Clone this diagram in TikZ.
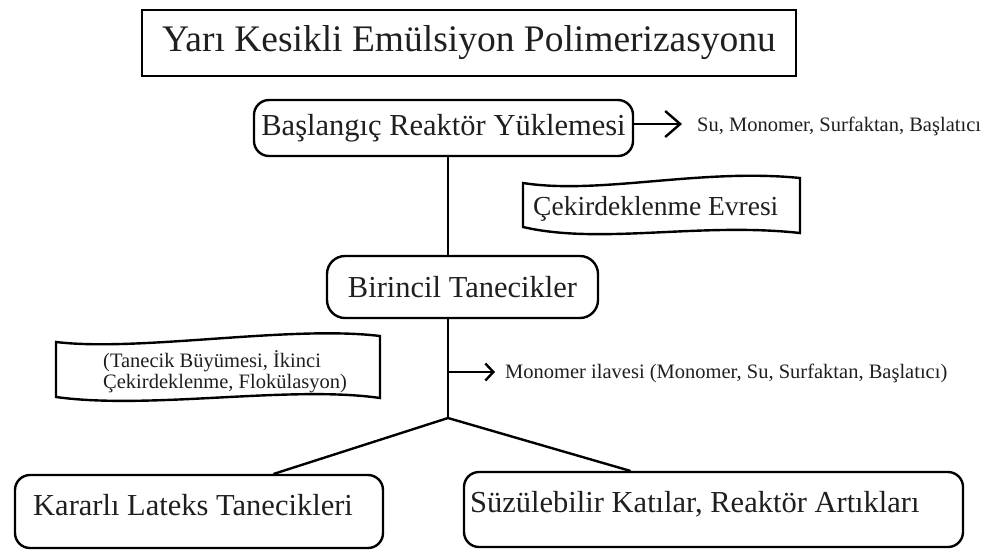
\documentclass[tikz,border=0pt]{standalone}
\usepackage{fontspec}
\setmainfont{Liberation Serif}
\usetikzlibrary{arrows.meta}
\tikzset{
  rbox/.style={draw=black, line width=2.4pt, rounded corners=15pt, inner sep=0pt},
  tbox/.style={draw=black, line width=2.4pt, inner sep=0pt},
  conn/.style={draw=black, line width=2.4pt},
  txt/.style={inner sep=0pt, text=black!88},
  bigtxt/.style={txt, font=\fontsize{30.5}{34}\selectfont},
  midtxt/.style={txt, font=\fontsize{27.5}{32}\selectfont},
  smalltxt/.style={txt, font=\fontsize{20.5}{24}\selectfont},
  bigarr/.style={conn, -{Straight Barb[length=15pt,width=26pt,line width=2.4pt]}},
  smallarr/.style={conn, -{Straight Barb[length=8pt,width=17pt,line width=2.4pt]}}
}
\begin{document}
\begin{tikzpicture}[x=1pt,y=-1pt]
\useasboundingbox[fill=white] (0,0) rectangle (984,550);
% title
\node[tbox, minimum width=654pt, minimum height=66pt, txt, font=\fontsize{37.5}{42}\selectfont] (title) at (469,43) {Yarı Kesikli Emülsiyon Polimerizasyonu};
% initial charge
\node[rbox, bigtxt, minimum width=379pt, minimum height=56pt] (bas) at (443.5,128) {Başlangıç Reaktör Yüklemesi};
\coordinate (a1) at (682,124);
\draw[bigarr] (bas.east |- a1) -- (a1);
\node[smalltxt, anchor=west] (su) at (697,126) {Su, Monomer, Surfaktan, Başlatıcı};
% nucleation tape
\draw[line width=2.4pt] (523,183) .. controls (600,195) and (700,168) .. (800,178)
  -- (800,233) .. controls (700,222) and (600,245) .. (523,227) -- cycle;
\node[midtxt, anchor=base west] (cek) at (533,215) {Çekirdeklenme Evresi};
% primary particles
\node[rbox, rounded corners=18pt, bigtxt, minimum width=271pt, minimum height=62pt] (bir) at (462.5,287) {Birincil Tanecikler};
\coordinate (jx) at (448,0);
\draw[conn] (bas.south -| jx) -- (bir.north -| jx);
% growth tape
\draw[line width=2.4pt] (56,342) .. controls (140,352) and (290,325) .. (380,336)
  -- (380,398) .. controls (290,385) and (150,410) .. (56,397) -- cycle;
\node[smalltxt, anchor=base west] (tan1) at (103,367) {(Tanecik Büyümesi, İkinci};
\node[smalltxt, anchor=base west] (tan2) at (103,388) {Çekirdeklenme, Flokülasyon)};
% trunk and feed
\coordinate (j) at (448,418);
\draw[conn] (bir.south -| jx) -- (j);
\coordinate (ma) at (448,372);
\coordinate (mb) at (495,372);
\draw[smallarr] (ma) -- (mb);
\node[smalltxt, anchor=west] (mon) at (505,373) {Monomer ilavesi (Monomer, Su, Surfaktan, Başlatıcı)};
% outputs
\node[rbox, minimum width=368pt, minimum height=73pt] (kar) at (199,511.5) {};
\node[rbox, minimum width=499pt, minimum height=75pt] (suz) at (713.5,509.5) {};
\node[bigtxt, anchor=base west] (kartxt) at (33,515) {Kararlı Lateks Tanecikleri};
\node[bigtxt, anchor=base west] (suztxt) at (470,512) {Süzülebilir Katılar, Reaktör Artıkları};
\coordinate (kx) at (274,0);
\coordinate (sx) at (630,0);
\draw[conn, line cap=round] (kar.north -| kx) -- (j) -- (suz.north -| sx);
\end{tikzpicture}
\end{document}
